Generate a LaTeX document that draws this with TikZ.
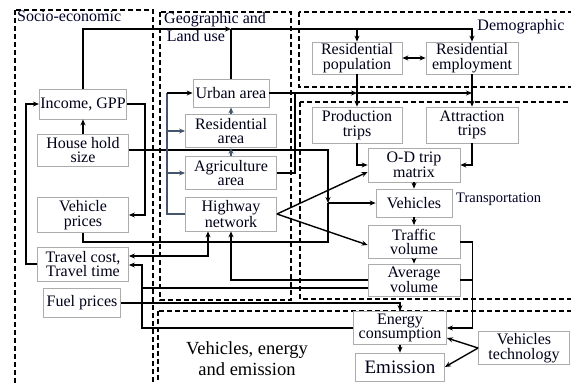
\documentclass[tikz,border=0pt]{standalone}
\usepackage{fontspec}
\setmainfont{Liberation Serif}
\usetikzlibrary{arrows.meta, positioning, calc}

\begin{document}
\begin{tikzpicture}[
      x=1pt, y=-1pt,
      factor/.style={rectangle, draw=gray!65, fill=white, line width=0.8pt, align=center, inner sep=1pt,
        font=\fontsize{16}{14.5}\selectfont, text=black!90!blue},
      zone/.style={draw, line width=1.3pt, dash pattern=on 5pt off 3pt},
      zonelabel/.style={inner sep=1pt, font=\fontsize{16}{18}\selectfont, text=black!85!blue},
      link/.style={line width=1.4pt},
      arrow/.style={-{Stealth[length=6pt,width=5pt]}, line width=1.4pt},
      both/.style={{Stealth[length=6pt,width=5pt]}-{Stealth[length=6pt,width=5pt]}, line width=1.4pt},
      landline/.style={line width=1.4pt, draw={rgb,255:red,70;green,85;blue,110}},
      landarrow/.style={-{Stealth[length=6pt,width=5pt]}, landline}
    ]
    \useasboundingbox (0,0) rectangle (571,383);

    % sub-systems
    \draw[zone] (15,10) rectangle (153,395);
    \draw[zone] (160,12) rectangle (291,300);
    \draw[zone] (299,12) rectangle (585,87);
    \draw[zone] (300,102) rectangle (585,299);
    \draw[zone] (158,311) rectangle (585,395);

    \node[zonelabel, anchor=north west] (lsoc) at (16,10) {Socio-economic};
    \node[zonelabel, anchor=north west, align=left] (lgeo) at (163,11) {Geographic and\\\,Land use};
    \node[zonelabel] (ldem) at (521,27) {Demographic};
    \node[zonelabel, anchor=west, font=\fontsize{14.5}{16}\selectfont] (ltra) at (455,199) {Transportation};
    \node[zonelabel, align=center, font=\fontsize{18.5}{21}\selectfont, text=black] (lveh) at (247,359) {Vehicles, energy\\and emission};

    % socio-economic
    \node[factor, minimum width=83pt, minimum height=30pt] (inc) at (83,104) {Income, GPP};
    \node[factor, minimum width=91pt, minimum height=32pt] (hhs) at (83,150) {House hold\\size};
    \node[factor, minimum width=91pt, minimum height=35pt] (vp) at (83,215) {Vehicle\\prices};
    \node[factor, minimum width=91pt, minimum height=34pt] (tc) at (83,264) {Travel cost,\\Travel time};
    \node[factor, minimum width=77pt, minimum height=29pt] (fp) at (82,303) {Fuel prices};

    % geographic and land use
    \node[factor, minimum width=76pt, minimum height=28pt] (ua) at (231,93) {Urban area};
    \node[factor, minimum width=91pt, minimum height=33pt] (ra) at (231,131) {Residential\\area};
    \node[factor, minimum width=91pt, minimum height=33pt] (aa) at (231,173) {Agriculture\\area};
    \node[factor, minimum width=91pt, minimum height=34pt] (hn) at (231,214) {Highway\\network};

    % demographic
    \node[factor, minimum width=90pt, minimum height=32pt] (rp) at (357,58) {Residential\\population};
    \node[factor, minimum width=92pt, minimum height=32pt] (re) at (472,58) {Residential\\employment};

    % transportation
    \node[factor, minimum width=90pt, minimum height=36pt] (pt) at (357,125) {Production\\trips};
    \node[factor, minimum width=92pt, minimum height=36pt] (at) at (472,125) {Attraction\\trips};
    \node[factor, minimum width=92pt, minimum height=34pt] (od) at (414,165) {O-D trip\\matrix};
    \node[factor, minimum width=76pt, minimum height=28pt] (veh) at (414,203) {Vehicles};
    \node[factor, minimum width=92pt, minimum height=33pt] (tv) at (414,242) {Traffic\\volume};
    \node[factor, minimum width=92pt, minimum height=32pt] (av) at (414,280) {Average\\volume};

    % vehicles, energy and emission
    \node[factor, minimum width=93pt, minimum height=33pt] (ec) at (400,328) {Energy\\consumption};
    \node[factor, minimum width=89pt, minimum height=28pt, font=\fontsize{19}{21}\selectfont] (em) at (400,367) {Emission};
    \node[factor, minimum width=91pt, minimum height=33pt] (vt) at (524,348) {Vehicles\\technology};

    % junctions
    \coordinate (jtop) at (231,29);
    \coordinate (jurb) at (295,93);
    \coordinate (jveh) at (328,203);
    \coordinate (jvp) at (328,242);
    \coordinate (jtc) at (142,328);
    \coordinate (jland) at (167,214);

    % socio-economic links
    \draw[arrow] (inc.north) |- (jtop);
    \draw[link] (ua.north) -- (jtop);
    \draw[arrow] (jtop) -| (rp.north);
    \draw[arrow] (jtop) -| (re.north);
    \draw[arrow] (hhs) -- (inc);
    \draw[arrow] (inc.east) -- ++(18,0) |- (vp.east);
    \draw[arrow] (tc.west) -- ++(-11,0) |- (inc.west);
    \draw[arrow] (hhs.east) -| (jveh);
    \draw[link] (vp.south) |- (jvp) -- (jveh);
    \draw[arrow] (jveh) -- (veh.west);
    \draw[arrow] (fp.east) -| (ec.north);

    % land use links
    \draw[landline] (hn.west) -- (jland) -- (jland |- ua.west);
    \draw[arrow] (jland |- ua.west) -- (ua.west);
    \draw[landarrow] (jland |- ra.west) -- (ra.west);
    \draw[landarrow] (jland |- aa.west) -- (aa.west);
    \draw[landarrow] (ra) -- (ua);
    \draw[landarrow] (aa) -- (ra);
    \draw[arrow] (ua.east) -- (rp.south |- ua.east);
    \draw[arrow] (rp.south |- ua.east) -- (re.south |- ua.east);
    \draw[link] (aa.east) -| (jurb);

    % demographic and transportation links
    \draw[both] (rp) -- (re);
    \draw[arrow] (rp) -- (pt);
    \draw[arrow] (re) -- (at);
    \draw[arrow] (pt.south) |- (od.west);
    \draw[arrow] (at.south) |- (od.east);
    \draw[arrow] (od) -- (veh);
    \draw[arrow] (veh) -- (tv);
    \draw[arrow] (tv) -- (av);
    \draw[arrow] (hn.east) -- ([yshift=-7pt]od.west);
    \draw[arrow] (hn.east) -- ([yshift=-3pt]tv.west);
    \draw[both] ([yshift=8pt]tc.east) -| ([xshift=-23pt]hn.south);
    \draw[arrow] (av.west) -| (hn.south);
    \draw[arrow] (ec.west) -- (jtc) |- ([yshift=-1pt]tc.east);
    \draw[link] ([yshift=-8pt]av.west) -- ([yshift=-8pt]av.west -| jtc);

    % energy and emission links
    \draw[arrow] (tv.east) -- ++(12,0) |- (ec.east);
    \draw[link] (av.east) -- ++(12,0);
    \draw[arrow] (ec) -- (em);
    \draw[arrow] (vt.west) -- ([yshift=-10pt]ec.east);
    \draw[arrow] (vt.west) -- (em.east);
  \end{tikzpicture}
\end{document}
